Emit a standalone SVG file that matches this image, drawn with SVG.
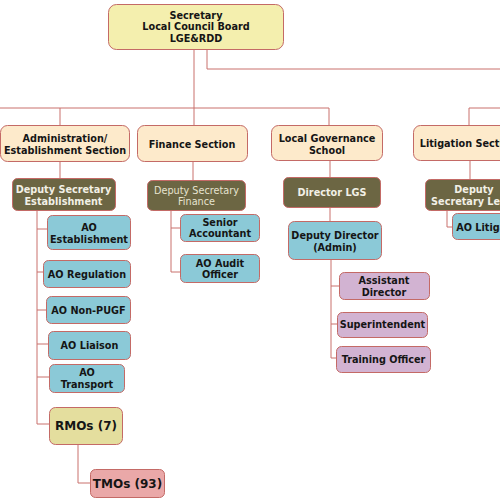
<svg xmlns="http://www.w3.org/2000/svg" width="500" height="500" viewBox="0 0 500 500">
<style>
.box{stroke:#c46a66;stroke-width:1}
.top{fill:#f4efae}
.sec{fill:#fdeacb}
.dep{fill:#6c6643}
.ao{fill:#8bc9d7}
.lav{fill:#d2b3d2}
.rmo{fill:#e4de9e}
.tmo{fill:#eaa8a8}
text{font-family:"DejaVu Sans","Verdana",sans-serif;font-size:9.7px;font-weight:bold;fill:#151515;text-anchor:middle;dominant-baseline:central}
.w{fill:#f2f0e6}
.lt{fill:#e6e3cf;font-weight:normal}
.big{font-size:12px}
.conn{fill:none;stroke:#c9706c;stroke-width:1}
</style>
<rect width="500" height="500" fill="#ffffff"/>
<g id="connectors" class="conn">
<path d="M194 49V108M207 49V69H500M0 108H329M60 108V125M194 108V126M329 108V125M469 108H500M469 108V125"/>
<path d="M60 162V178M193 162V180M330 161V177M330 207V222M470 161V179"/>
<path d="M37 211V424H49M37 229H47M37 272H43M37 310H46M37 344H48M37 377H49"/>
<path d="M78 444V483H90"/>
<path d="M171 211V272H180M171 228H180"/>
<path d="M331 260V358H336M331 286H339M331 324H337"/>
<path d="M447 210V227H452"/>
</g>
<g id="secretary"><rect class="box top" x="108.5" y="4.5" width="175" height="45" rx="8"/><text x="196" y="15">Secretary</text><text x="196" y="26.5">Local Council Board</text><text x="196" y="38">LGE&amp;RDD</text></g>
<g id="admin"><rect class="box sec" x="0.5" y="125.5" width="129" height="36" rx="7"/><text x="65" y="138">Administration/</text><text x="65" y="150">Establishment Section</text></g>
<g id="finance"><rect class="box sec" x="137.5" y="125.5" width="110" height="36" rx="7"/><text x="192" y="144">Finance Section</text></g>
<g id="lgs"><rect class="box sec" x="271.5" y="125.5" width="111" height="35" rx="7"/><text x="327" y="138">Local Governance</text><text x="327" y="150">School</text></g>
<g id="litigation"><rect class="box sec" x="413.5" y="125.5" width="110" height="35" rx="7"/><text x="468" y="143.5">Litigation Section</text></g>
<g id="ds-establishment"><rect class="box dep" x="12.5" y="178.5" width="103" height="32" rx="5"/><text class="w" x="63.5" y="189">Deputy Secretary</text><text class="w" x="63.5" y="201">Establishment</text></g>
<g id="ds-finance"><rect class="box dep" x="147.5" y="180.5" width="98" height="30" rx="5"/><text class="lt" x="196.5" y="190">Deputy Secretary</text><text class="lt" x="196.5" y="201">Finance</text></g>
<g id="director-lgs"><rect class="box dep" x="283.5" y="177.5" width="97" height="30" rx="5"/><text class="w" x="332" y="192.5">Director LGS</text></g>
<g id="ds-legal"><rect class="box dep" x="425.5" y="179.5" width="100" height="31" rx="5"/><text class="w" x="474" y="189">Deputy</text><text class="w" x="474" y="201">Secretary Legal</text></g>
<g id="ao-establishment"><rect class="box ao" x="47.5" y="215.5" width="83" height="34" rx="5"/><text x="89" y="227">AO</text><text x="89" y="239">Establishment</text></g>
<g id="ao-regulation"><rect class="box ao" x="43.5" y="260.5" width="87" height="27" rx="5"/><text x="87" y="274">AO Regulation</text></g>
<g id="ao-nonpugf"><rect class="box ao" x="46.5" y="296.5" width="84" height="27" rx="5"/><text x="88.5" y="310">AO Non-PUGF</text></g>
<g id="ao-liaison"><rect class="box ao" x="48.5" y="331.5" width="82" height="28" rx="5"/><text x="89.5" y="345">AO Liaison</text></g>
<g id="ao-transport"><rect class="box ao" x="49.5" y="364.5" width="75" height="28" rx="5"/><text x="87" y="372.5">AO</text><text x="87" y="384">Transport</text></g>
<g id="rmos"><rect class="box rmo" x="49.5" y="407.5" width="73" height="37" rx="6"/><text class="big" x="86" y="426">RMOs (7)</text></g>
<g id="tmos"><rect class="box tmo" x="90.5" y="469.5" width="74" height="28" rx="5"/><text class="big" x="127.5" y="483.5">TMOs (93)</text></g>
<g id="senior-accountant"><rect class="box ao" x="180.5" y="214.5" width="79" height="27" rx="5"/><text x="220" y="222">Senior</text><text x="220" y="233.5">Accountant</text></g>
<g id="ao-audit"><rect class="box ao" x="180.5" y="254.5" width="79" height="28" rx="5"/><text x="220" y="263">AO Audit</text><text x="220" y="274.5">Officer</text></g>
<g id="deputy-director"><rect class="box ao" x="288.5" y="221.5" width="93" height="38" rx="6"/><text x="335" y="235.5">Deputy Director</text><text x="335" y="247">(Admin)</text></g>
<g id="assistant-director"><rect class="box lav" x="339.5" y="272.5" width="90" height="27" rx="5"/><text x="384" y="280.5">Assistant</text><text x="384" y="292">Director</text></g>
<g id="superintendent"><rect class="box lav" x="337.5" y="312.5" width="90" height="25" rx="5"/><text x="382.5" y="324.5">Superintendent</text></g>
<g id="training-officer"><rect class="box lav" x="336.5" y="346.5" width="94" height="26" rx="5"/><text x="383.5" y="359">Training Officer</text></g>
<g id="ao-litigation"><rect class="box ao" x="452.5" y="213.5" width="80" height="26" rx="5"/><text x="492" y="227">AO Litigation</text></g>
</svg>
